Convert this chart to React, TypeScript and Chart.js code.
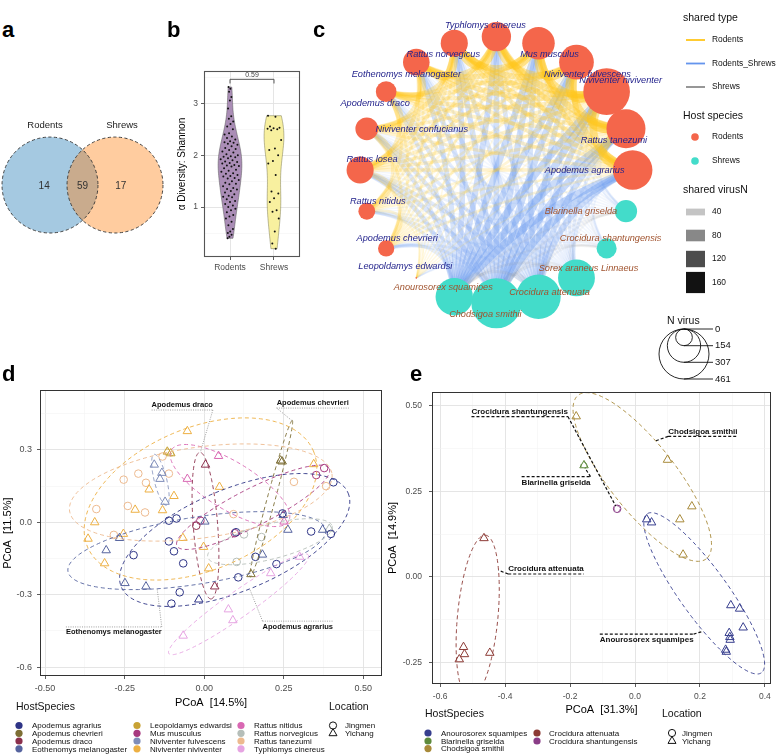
import React, { useEffect, useRef } from "react";
import { Chart, registerables } from "chart.js";

Chart.register(...registerables);
const FONT = "'Liberation Sans', Arial, Helvetica, sans-serif";
Chart.defaults.font.family = FONT;
Chart.defaults.color = "#4d4d4d";

/* ======================= DATA ======================= */
// a: Venn
const VENN_SETS = ["Rodents", "Shrews"];
const VENN_COUNTS = [14, 59, 17]; // rodents only, shared, shrews only

// b: violin (alpha diversity, Shannon)
const VIOLIN_GROUPS = ["Rodents", "Shrews"];
const SHANNON_RODENTS = [3.31, 3.28, 3.22, 3.12, 3.05, 2.9, 2.75, 2.7, 2.65, 2.6, 2.55, 2.5, 2.42, 2.4, 2.36, 2.33, 2.3, 2.27, 2.25, 2.24, 2.22, 2.2, 2.17, 2.14, 2.12, 2.1, 2.07, 2.05, 2.02, 2.0, 1.98, 1.97, 1.96, 1.94, 1.92, 1.9, 1.88, 1.87, 1.85, 1.84, 1.81, 1.8, 1.79, 1.78, 1.75, 1.72, 1.7, 1.68, 1.65, 1.64, 1.62, 1.6, 1.59, 1.56, 1.55, 1.52, 1.5, 1.47, 1.45, 1.44, 1.4, 1.37, 1.35, 1.34, 1.31, 1.28, 1.25, 1.22, 1.2, 1.19, 1.15, 1.12, 1.1, 1.06, 1.03, 1.0, 0.97, 0.94, 0.9, 0.85, 0.82, 0.78, 0.72, 0.65, 0.58, 0.53, 0.5, 0.47, 0.43, 0.4];
const SHANNON_SHREWS = [2.76, 2.74, 2.55, 2.53, 2.52, 2.51, 2.5, 2.48, 2.29, 2.13, 2.1, 2.0, 1.89, 1.84, 1.62, 1.3, 1.26, 1.17, 1.1, 0.94, 0.91, 0.78, 0.53, 0.3, 0.2];
const P_LABEL = "0.59";
const VIOLIN_Y_TICKS = [0.5, 1, 1.5, 2, 2.5, 3, 3.5];
const VIOLIN_Y_MAJOR = [1, 2, 3];

// c: network
const NET_NAMES = ["Typhlomys cinereus", "Mus musculus", "Niviventer fulvescens", "Niviventer niviventer", "Rattus tanezumi", "Apodemus agrarius", "Blarinella griselda", "Crocidura shantungensis", "Sorex araneus Linnaeus", "Crocidura attenuata", "Chodsigoa smithii", "Anourosorex squamipes", "Leopoldamys edwardsi", "Apodemus chevrieri", "Rattus nitidus", "Rattus losea", "Niviventer confucianus", "Apodemus draco", "Eothenomys melanogaster", "Rattus norvegicus"];
const NET_HOST = ["Rodents", "Rodents", "Rodents", "Rodents", "Rodents", "Rodents", "Shrews", "Shrews", "Shrews", "Shrews", "Shrews", "Shrews", "Rodents", "Rodents", "Rodents", "Rodents", "Rodents", "Rodents", "Rodents", "Rodents"];
const NET_NVIRUS = [270, 300, 320, 430, 360, 365, 205, 185, 340, 410, 461, 345, 15, 150, 155, 250, 210, 190, 245, 250];
const HOST_TYPES = ["Rodents", "Shrews"];
const SHARED_TYPES = ["Rodents", "Rodents_Shrews", "Shrews"];
const EDGES_RR = [
  [0, 1, 120], [0, 2, 110], [0, 3, 110], [0, 4, 80], [0, 5, 70], [0, 12, 5], [0, 13, 25], [0, 14, 25], [0, 15, 50], [0, 16, 50], [0, 17, 60], [0, 18, 90], [0, 19, 130],
  [1, 2, 130], [1, 3, 130], [1, 4, 100], [1, 5, 80], [1, 12, 5], [1, 13, 25], [1, 14, 25], [1, 15, 45], [1, 16, 45], [1, 17, 55], [1, 18, 80], [1, 19, 110],
  [2, 3, 150], [2, 4, 120], [2, 5, 90], [2, 12, 5], [2, 13, 25], [2, 14, 25], [2, 15, 45], [2, 16, 45], [2, 17, 55], [2, 18, 75], [2, 19, 95],
  [3, 4, 160], [3, 5, 130], [3, 12, 6], [3, 13, 30], [3, 14, 30], [3, 15, 50], [3, 16, 50], [3, 17, 60], [3, 18, 80], [3, 19, 95],
  [4, 5, 150], [4, 12, 5], [4, 13, 25], [4, 14, 25], [4, 15, 45], [4, 16, 45], [4, 17, 50], [4, 18, 60], [4, 19, 75],
  [5, 12, 5], [5, 13, 25], [5, 14, 25], [5, 15, 45], [5, 16, 40], [5, 17, 45], [5, 18, 55], [5, 19, 65],
  [12, 13, 4], [12, 14, 4], [12, 15, 5], [12, 16, 5], [12, 17, 5], [12, 18, 5], [12, 19, 5],
  [13, 14, 30], [13, 15, 40], [13, 16, 35], [13, 17, 30], [13, 18, 30], [13, 19, 30],
  [14, 15, 45], [14, 16, 40], [14, 17, 35], [14, 18, 35], [14, 19, 35],
  [15, 16, 70], [15, 17, 60], [15, 18, 60], [15, 19, 60],
  [16, 17, 70], [16, 18, 65], [16, 19, 60],
  [17, 18, 90], [17, 19, 80],
  [18, 19, 110],
];
const RS_RODENTS = [0, 1, 2, 3, 4, 5, 12, 13, 14, 15, 16, 17, 18, 19];
const RS_SHREWS = [6, 7, 8, 9, 10, 11];
const RS_SHARED = [
  [10, 8, 30, 70, 90, 95],
  [12, 10, 35, 80, 100, 105],
  [12, 10, 35, 80, 105, 105],
  [15, 12, 40, 95, 120, 120],
  [15, 12, 40, 90, 115, 110],
  [18, 14, 45, 100, 125, 120],
  [2, 2, 3, 5, 6, 6],
  [6, 5, 15, 30, 40, 40],
  [6, 5, 15, 30, 40, 40],
  [10, 8, 25, 55, 70, 70],
  [9, 7, 22, 50, 62, 62],
  [8, 7, 20, 45, 58, 58],
  [10, 8, 28, 60, 75, 78],
  [11, 9, 30, 65, 85, 88],
];
const EDGES_SS = [[6, 7, 10], [6, 8, 15], [6, 9, 20], [6, 10, 22], [6, 11, 18], [7, 8, 12], [7, 9, 18], [7, 10, 20], [7, 11, 16], [8, 9, 30], [8, 10, 35], [8, 11, 28], [9, 10, 45], [9, 11, 38], [10, 11, 42]];
const SHARED_BREAKS = [40, 80, 120, 160];
const NVIRUS_BREAKS = [0, 154, 307, 461];

// d: PCoA rodents  [x, y, location]
const LOCATIONS = ["Jingmen", "Yichang"];
const D_SPECIES = ["Apodemus agrarius", "Apodemus chevrieri", "Apodemus draco", "Eothenomys melanogaster", "Leopoldamys edwardsi", "Mus musculus", "Niviventer fulvescens", "Niviventer niviventer", "Rattus nitidus", "Rattus norvegicus", "Rattus tanezumi", "Typhlomys cinereus"];
const D_AGRARIUS = [[-0.222, -0.136, "J"], [-0.111, 0.007, "J"], [-0.087, 0.016, "J"], [-0.111, -0.079, "J"], [-0.095, -0.12, "J"], [-0.066, -0.17, "J"], [-0.077, -0.29, "J"], [-0.103, -0.337, "J"], [-0.017, -0.32, "Y"], [0.107, -0.228, "J"], [0.161, -0.143, "J"], [0.227, -0.173, "J"], [0.1, -0.041, "J"], [0.246, 0.037, "J"], [0.336, -0.038, "J"], [0.398, -0.048, "J"], [0.406, 0.166, "J"]];
const D_CHEVRIERI = [[0.24, 0.256, "Y"], [0.245, 0.252, "Y"], [0.147, -0.215, "Y"]];
const D_DRACO = [[0.004, 0.239, "Y"], [0.033, -0.266, "Y"], [-0.025, -0.014, "J"]];
const D_EOTHENOMYS = [[-0.266, -0.065, "Y"], [-0.308, -0.116, "Y"], [-0.249, -0.252, "Y"], [-0.183, -0.266, "Y"], [0.248, 0.03, "Y"], [0.263, -0.031, "Y"], [0.183, -0.134, "Y"], [0.372, -0.031, "Y"], [0.002, 0.003, "Y"]];
const D_LEOPOLDAMYS = [[-0.116, 0.293, "Y"], [-0.105, 0.286, "Y"]];
const D_MUS = [[0.377, 0.225, "J"], [0.352, 0.196, "J"], [-0.012, 0.007, "J"], [0.096, -0.045, "J"]];
const D_FULVESCENS = [[-0.157, 0.239, "Y"], [-0.133, 0.205, "Y"], [-0.139, 0.18, "Y"], [-0.123, 0.085, "Y"]];
const D_NIVIVENTER = [[-0.053, 0.378, "Y"], [0.344, 0.241, "Y"], [-0.173, 0.136, "Y"], [0.048, 0.147, "Y"], [-0.095, 0.109, "Y"], [-0.217, 0.052, "Y"], [-0.131, 0.05, "Y"], [-0.344, 0.0, "Y"], [-0.365, -0.068, "Y"], [-0.254, -0.048, "Y"], [-0.313, -0.17, "Y"], [-0.067, -0.065, "Y"], [-0.002, -0.102, "Y"], [0.014, -0.191, "Y"]];
const D_NITIDUS = [[0.045, 0.275, "Y"], [-0.053, 0.18, "Y"], [0.251, 0.003, "Y"]];
const D_NORVEGICUS = [[0.18, -0.061, "J"], [0.102, -0.164, "J"], [0.393, -0.027, "Y"], [0.125, -0.05, "J"]];
const D_TANEZUMI = [[-0.339, 0.055, "J"], [-0.24, 0.068, "J"], [-0.186, 0.041, "J"], [-0.284, -0.052, "J"], [-0.253, 0.177, "J"], [-0.207, 0.202, "J"], [-0.111, 0.202, "J"], [-0.183, 0.164, "J"], [0.092, 0.034, "J"], [0.282, 0.168, "J"], [0.383, 0.15, "J"], [-0.131, 0.273, "J"]];
const D_TYPHLOMYS = [[0.3, -0.143, "Y"], [0.209, -0.211, "Y"], [0.076, -0.361, "Y"], [0.09, -0.406, "Y"], [-0.066, -0.47, "Y"]];
const D_DATA = [D_AGRARIUS, D_CHEVRIERI, D_DRACO, D_EOTHENOMYS, D_LEOPOLDAMYS, D_MUS, D_FULVESCENS, D_NIVIVENTER, D_NITIDUS, D_NORVEGICUS, D_TANEZUMI, D_TYPHLOMYS];
const D_X_TICKS = [-0.5, -0.375, -0.25, -0.125, 0, 0.125, 0.25, 0.375, 0.5];
const D_X_MAJOR = [-0.5, -0.25, 0, 0.25, 0.5];
const D_Y_TICKS = [-0.6, -0.45, -0.3, -0.15, 0, 0.15, 0.3, 0.45];
const D_Y_MAJOR = [-0.6, -0.3, 0, 0.3];
const D_MARK_NAMES = ["Apodemus draco", "Apodemus chevrieri", "Eothenomys melanogaster", "Apodemus agrarius"];
const D_MARK_X = [-0.069, 0.341, -0.284, 0.294];
const D_MARK_Y = [0.485, 0.493, -0.456, -0.432];

// e: PCoA shrews
const E_SPECIES = ["Anourosorex squamipes", "Blarinella griselda", "Chodsigoa smithii", "Crocidura attenuata", "Crocidura shantungensis"];
const E_ANOUROSOREX = [[0.036, 0.168, "Y"], [0.051, 0.159, "Y"], [0.295, -0.083, "Y"], [0.322, -0.093, "Y"], [0.333, -0.148, "Y"], [0.29, -0.164, "Y"], [0.292, -0.176, "Y"], [0.293, -0.184, "Y"], [0.279, -0.213, "Y"], [0.281, -0.219, "Y"]];
const E_BLARINELLA = [[-0.157, 0.326, "Y"]];
const E_CHODSIGOA = [[-0.181, 0.469, "Y"], [0.1, 0.342, "Y"], [0.175, 0.206, "Y"], [0.138, 0.168, "Y"], [0.148, 0.065, "Y"]];
const E_ATTENUATA = [[-0.465, 0.113, "Y"], [-0.528, -0.205, "Y"], [-0.525, -0.226, "Y"], [-0.541, -0.241, "Y"], [-0.447, -0.222, "Y"]];
const E_SHANTUNGENSIS = [[-0.055, 0.199, "J"]];
const E_DATA = [E_ANOUROSOREX, E_BLARINELLA, E_CHODSIGOA, E_ATTENUATA, E_SHANTUNGENSIS];
const E_X_TICKS = [-0.6, -0.5, -0.4, -0.3, -0.2, -0.1, 0, 0.1, 0.2, 0.3, 0.4];
const E_X_MAJOR = [-0.6, -0.4, -0.2, 0, 0.2, 0.4];
const E_Y_TICKS = [-0.25, -0.125, 0, 0.125, 0.25, 0.375, 0.5];
const E_Y_MAJOR = [-0.25, 0, 0.25, 0.5];
const E_MARK_NAMES = ["Crocidura shantungensis", "Chodsigoa smithii", "Blarinella griselda", "Crocidura attenuata", "Anourosorex squamipes"];
const E_MARK_X = [-0.355, 0.209, -0.243, -0.274, 0.036];
const E_MARK_Y = [0.483, 0.425, 0.276, 0.023, -0.184];

/* ======================= STYLES ======================= */
const D_COLORS = ["#2E3486", "#7D6E35", "#8B2F4C", "#56649F", "#C8A234", "#A7397F", "#7F8DB9", "#EDB043", "#D968B3", "#B5BEB9", "#EDBA8F", "#E6A4E2"];
const E_COLORS = ["#373E8E", "#5D8A3C", "#A88A3A", "#8C3A35", "#8A3D87"];
const HOST_COLORS = ["#F4664B", "#43DCCA"];
const TYPE_COLORS = ["#FFC61A", "#6495ED", "#8C8C8C"];
const TYPE_ALPHA = [[0.1, 0.42], [0.06, 0.4], [0.05, 0.35]];
const EDGE_DRAW_ORDER = [1, 2, 0];
const EDGE_BEND = 0.6; // control point = chord midpoint * EDGE_BEND (bends edges toward the centre)
const NODE_K = 25 / 461;
const NET_LABEL_NUDGE = [[-11, -11], [11, 11], [11, 12], [14, -11], [-12, 12], [-48, 0], [-45, 0], [4, -10], [12, -9], [11, -4], [-11, 11], [-11, -9], [-11, -11], [11, -10], [11, -10], [12, -11], [55, 1], [-11, 12], [-10, 12], [-11, 11]];

/* ======================= HELPERS ======================= */
const isIn = (list: number[], v: number) => list.some((m) => Math.abs(m - v) < 1e-9);
const clean = (v: number) => (Math.abs(v) < 1e-9 ? 0 : v);

function baseOptions(padding: any) {
  return {
    animation: false,
    responsive: false,
    maintainAspectRatio: false,
    events: [],
    layout: { padding },
    plugins: { legend: { display: false }, tooltip: { enabled: false }, title: { display: false } },
  };
}

function linAxis(o: any) {
  const maj = (c: any) => c.tick && isIn(o.majors, c.tick.value);
  return {
    type: "linear",
    min: o.min,
    max: o.max,
    afterBuildTicks: (s: any) => {
      s.ticks = o.ticks.map((v: number) => ({ value: v }));
    },
    afterFit: (s: any) => {
      if (o.isX) s.height = o.fixed;
      else s.width = o.fixed;
    },
    ticks: {
      autoSkip: false,
      maxRotation: 0,
      minRotation: 0,
      padding: o.tickPad,
      color: "#4d4d4d",
      font: { size: o.fontSize },
      callback: (v: number) => (isIn(o.majors, v) ? (o.labels ? o.labels[o.majors.findIndex((m: number) => Math.abs(m - v) < 1e-9)] : o.fmt(clean(v))) : ""),
    },
    grid: {
      color: (c: any) => (maj(c) ? "#e2e2e2" : "#f1f1f1"),
      lineWidth: (c: any) => (maj(c) ? 0.9 : 0.5),
      tickColor: (c: any) => (maj(c) ? "#333" : "rgba(0,0,0,0)"),
      tickLength: 3,
      tickWidth: 0.8,
      drawTicks: true,
    },
    border: { display: false },
    title: o.title
      ? { display: true, text: o.title, color: "#000", font: { size: o.titleSize || 11 }, padding: o.titlePad }
      : { display: false },
  };
}

function boxPlugin(color: string, lw: number) {
  return {
    id: "box",
    afterDraw(chart: any) {
      const { ctx, chartArea: a } = chart;
      ctx.save();
      ctx.strokeStyle = color;
      ctx.lineWidth = lw;
      ctx.strokeRect(Math.round(a.left) + 0.5, Math.round(a.top) + 0.5, Math.round(a.right - a.left) - 1, Math.round(a.bottom - a.top) - 1);
      ctx.restore();
    },
  };
}

function inv3(m: number[][]) {
  const [a, b, c] = m[0], [d, e, f] = m[1], [g, h, i] = m[2];
  const A = e * i - f * h, B = -(d * i - f * g), C = d * h - e * g;
  const det = a * A + b * B + c * C;
  return [
    [A / det, -(b * i - c * h) / det, (b * f - c * e) / det],
    [B / det, (a * i - c * g) / det, -(a * f - c * d) / det],
    [C / det, -(a * h - b * g) / det, (a * e - b * d) / det],
  ];
}

// minimum-volume enclosing ellipse (Khachiyan)
function mvee(pts: number[][]) {
  const n = pts.length;
  if (n === 1) return { cx: pts[0][0], cy: pts[0][1], a: 0, b: 0, t: 0 };
  if (n === 2) {
    const [p, q] = pts;
    return { cx: (p[0] + q[0]) / 2, cy: (p[1] + q[1]) / 2, a: Math.hypot(q[0] - p[0], q[1] - p[1]) / 2, b: 0, t: Math.atan2(q[1] - p[1], q[0] - p[0]) };
  }
  const mx = pts.reduce((s, p) => s + p[0], 0) / n;
  const my = pts.reduce((s, p) => s + p[1], 0) / n;
  const P = pts.map((p) => [p[0] - mx, p[1] - my]);
  let u = new Array(n).fill(1 / n);
  for (let it = 0; it < 6000; it++) {
    const X = [[1e-6, 0, 0], [0, 1e-6, 0], [0, 0, 1e-9]];
    for (let k = 0; k < n; k++) {
      const q = [P[k][0], P[k][1], 1];
      for (let r = 0; r < 3; r++) for (let c = 0; c < 3; c++) X[r][c] += u[k] * q[r] * q[c];
    }
    const Xi = inv3(X);
    let maxM = -Infinity, j = 0;
    for (let k = 0; k < n; k++) {
      const q = [P[k][0], P[k][1], 1];
      let m = 0;
      for (let r = 0; r < 3; r++) for (let c = 0; c < 3; c++) m += q[r] * Xi[r][c] * q[c];
      if (m > maxM) { maxM = m; j = k; }
    }
    const step = (maxM - 3) / (3 * (maxM - 1));
    if (!(step > 1e-8)) break;
    u = u.map((v) => v * (1 - step));
    u[j] += step;
  }
  let cx = 0, cy = 0;
  for (let k = 0; k < n; k++) { cx += u[k] * P[k][0]; cy += u[k] * P[k][1]; }
  let sxx = 0, sxy = 0, syy = 0;
  for (let k = 0; k < n; k++) {
    const dx = P[k][0] - cx, dy = P[k][1] - cy;
    sxx += u[k] * dx * dx; sxy += u[k] * dx * dy; syy += u[k] * dy * dy;
  }
  const tr = (sxx + syy) / 2, df = Math.sqrt(((sxx - syy) / 2) ** 2 + sxy * sxy);
  const l1 = tr + df, l2 = Math.max(tr - df, 0);
  return { cx: cx + mx, cy: cy + my, a: Math.sqrt(2 * l1), b: Math.sqrt(2 * l2), t: 0.5 * Math.atan2(2 * sxy, sxx - syy) };
}

function ellipsePoly(e: any, expand: number) {
  const a = e.a + expand, b = e.b + expand, out: number[][] = [];
  for (let k = 0; k < 160; k++) {
    const th = (k / 160) * Math.PI * 2;
    const ca = Math.cos(th) * a, sb = Math.sin(th) * b;
    out.push([e.cx + ca * Math.cos(e.t) - sb * Math.sin(e.t), e.cy + ca * Math.sin(e.t) + sb * Math.cos(e.t)]);
  }
  return out;
}

function markPlugin(cfg: any) {
  return {
    id: "marks",
    afterDatasetsDraw(chart: any) {
      const { ctx, chartArea: a, scales } = chart;
      const xs = scales.x, ys = scales.y;
      const polys: any = {};
      ctx.save();
      ctx.beginPath();
      ctx.rect(a.left, a.top, a.right - a.left, a.bottom - a.top);
      ctx.clip();
      chart.data.datasets.forEach((ds: any) => {
        const pts = ds.data.map((p: any) => [xs.getPixelForValue(p.x), ys.getPixelForValue(p.y)]);
        const poly = ellipsePoly(mvee(pts), cfg.expand);
        polys[ds.label] = poly;
        ctx.strokeStyle = ds.borderColor;
        ctx.lineWidth = 0.9;
        ctx.setLineDash(cfg.dash);
        ctx.beginPath();
        poly.forEach((p: number[], i: number) => (i ? ctx.lineTo(p[0], p[1]) : ctx.moveTo(p[0], p[1])));
        ctx.closePath();
        ctx.stroke();
      });
      ctx.restore();
      ctx.save();
      ctx.font = `bold ${cfg.fontSize}px ${FONT}`;
      ctx.textAlign = "center";
      ctx.textBaseline = "middle";
      cfg.names.forEach((nm: string, k: number) => {
        const cx = xs.getPixelForValue(cfg.xs[k]), cy = ys.getPixelForValue(cfg.ys[k]);
        const w = ctx.measureText(nm).width;
        const poly = polys[nm];
        const ends = [[cx - w / 2, cy], [cx + w / 2, cy]];
        let best = { d: Infinity, e: ends[0], p: poly[0] };
        ends.forEach((en) => poly.forEach((p: number[]) => {
          const d = Math.hypot(p[0] - en[0], p[1] - en[1]);
          if (d < best.d) best = { d, e: en, p };
        }));
        const above = best.p[1] < cy;
        const ly = above ? cy - cfg.fontSize * 0.72 : cy + cfg.fontSize * 0.62;
        ctx.fillStyle = "#111";
        ctx.fillText(nm, cx, cy);
        ctx.strokeStyle = cfg.lineColor;
        ctx.lineWidth = cfg.lineWidth;
        ctx.setLineDash(cfg.lineDash);
        ctx.beginPath();
        ctx.moveTo(cx - w / 2, ly);
        ctx.lineTo(cx + w / 2, ly);
        ctx.moveTo(best.e[0], ly);
        ctx.lineTo(best.p[0], best.p[1]);
        ctx.stroke();
      });
      ctx.restore();
    },
  };
}

function pcoaLegendPlugin(off: number[], L: any) {
  return {
    id: "pleg",
    afterDraw(chart: any) {
      const ctx = chart.ctx;
      const X = (v: number) => v - off[0], Y = (v: number) => v - off[1];
      ctx.save();
      ctx.textBaseline = "middle";
      ctx.textAlign = "left";
      ctx.fillStyle = "#111";
      ctx.font = `10.5px ${FONT}`;
      ctx.fillText("HostSpecies", X(L.titleX), Y(L.titleY));
      ctx.fillText("Location", X(L.locTitleX), Y(L.titleY));
      ctx.font = `8px ${FONT}`;
      L.names.forEach((nm: string, k: number) => {
        const col = Math.floor(k / L.rows.length), row = k % L.rows.length;
        const ky = Y(L.rows[row]);
        ctx.fillStyle = L.colors[k];
        ctx.beginPath();
        ctx.arc(X(L.keyX[col]), ky, 3.6, 0, Math.PI * 2);
        ctx.fill();
        ctx.fillStyle = "#111";
        ctx.fillText(nm, X(L.textX[col]), ky + 0.5);
      });
      LOCATIONS.forEach((loc, k) => {
        const kx = X(L.locKeyX), ky = Y(L.rows[k]);
        ctx.strokeStyle = "#111";
        ctx.lineWidth = 1;
        ctx.beginPath();
        if (k === 0) ctx.arc(kx, ky, 3.6, 0, Math.PI * 2);
        else {
          ctx.moveTo(kx, ky - 4.6);
          ctx.lineTo(kx + 4, ky + 2.4);
          ctx.lineTo(kx - 4, ky + 2.4);
          ctx.closePath();
        }
        ctx.stroke();
        ctx.fillStyle = "#111";
        ctx.fillText(loc, X(L.locTextX), ky + 0.5);
      });
      ctx.restore();
    },
  };
}

function pcoaDatasets(names: string[], data: any[], colors: string[]) {
  return names.map((nm, k) => ({
    label: nm,
    data: data[k].map((p: any) => ({ x: p[0], y: p[1], loc: p[2] })),
    borderColor: colors[k],
    backgroundColor: "rgba(0,0,0,0)",
    borderWidth: 1,
    pointStyle: (c: any) => (c.raw && c.raw.loc === "J" ? "circle" : "triangle"),
    pointRadius: (c: any) => (c.raw && c.raw.loc === "J" ? 3.8 : 4.9),
    clip: false,
  }));
}

/* ======================= PANEL CONFIGS ======================= */
const VENN_R = 0.738;
function makeVenn() {
  const plugin = {
    id: "venn",
    afterDraw(chart: any) {
      const { ctx, scales: { x, y } } = chart;
      const r = x.getPixelForValue(VENN_R) - x.getPixelForValue(0);
      const cs = [0, 1].map((v) => [x.getPixelForValue(v), y.getPixelForValue(0)]);
      const fills = ["rgba(31,119,180,0.4)", "rgba(255,127,14,0.4)"];
      ctx.save();
      cs.forEach((c, k) => {
        ctx.fillStyle = fills[k];
        ctx.beginPath();
        ctx.arc(c[0], c[1], r, 0, Math.PI * 2);
        ctx.fill();
      });
      ctx.setLineDash([3.2, 2.4]);
      ctx.strokeStyle = "#333";
      ctx.lineWidth = 0.9;
      cs.forEach((c) => {
        ctx.beginPath();
        ctx.arc(c[0], c[1], r, 0, Math.PI * 2);
        ctx.stroke();
      });
      ctx.textAlign = "center";
      ctx.textBaseline = "middle";
      ctx.fillStyle = "#222";
      ctx.font = `9.5px ${FONT}`;
      const lx = [-0.077, 1.108];
      VENN_SETS.forEach((s, k) => ctx.fillText(s, x.getPixelForValue(lx[k]), y.getPixelForValue(0.923)));
      ctx.font = `10px ${FONT}`;
      ctx.fillStyle = "#333";
      const nx = [-0.09, 0.5, 1.09];
      VENN_COUNTS.forEach((n, k) => ctx.fillText(String(n), x.getPixelForValue(nx[k]), y.getPixelForValue(-0.015)));
      ctx.restore();
    },
  };
  return {
    type: "scatter",
    data: { datasets: [{ data: [{ x: 0, y: 0 }, { x: 1, y: 0 }], pointRadius: 0 }] },
    options: { ...baseOptions(0), scales: { x: { display: false, min: -0.769, max: 1.846 }, y: { display: false, min: -1.015, max: 0.985 } } },
    plugins: [plugin],
  };
}

function kdeInfo(vals: number[]) {
  const n = vals.length;
  const mean = vals.reduce((s, v) => s + v, 0) / n;
  const sd = Math.sqrt(vals.reduce((s, v) => s + (v - mean) ** 2, 0) / (n - 1));
  const s = [...vals].sort((a, b) => a - b);
  const q = (p: number) => {
    const h = (n - 1) * p, lo = Math.floor(h);
    return s[lo] + (h - lo) * ((s[lo + 1] ?? s[lo]) - s[lo]);
  };
  const bw = 0.9 * Math.min(sd, (q(0.75) - q(0.25)) / 1.34) * Math.pow(n, -0.2);
  const dens = (g: number) => vals.reduce((acc, v) => acc + Math.exp(-0.5 * ((g - v) / bw) ** 2), 0) / (n * bw * Math.sqrt(2 * Math.PI));
  return { min: s[0], max: s[n - 1], dens };
}

function makeViolin() {
  const groups = [SHANNON_RODENTS, SHANNON_SHREWS];
  const infos = groups.map(kdeInfo);
  const grids = infos.map((inf) => Array.from({ length: 90 }, (_, i) => inf.min + ((inf.max - inf.min) * i) / 89));
  const maxD = Math.max(...infos.map((inf, g) => Math.max(...grids[g].map(inf.dens))));
  const HALF = 0.27;
  const fills = ["#AA8DB6", "#F8F09F"];
  const strokes = ["#555", "#77744e"];
  const violinPlugin = {
    id: "violin",
    beforeDatasetsDraw(chart: any) {
      const { ctx, scales: { x, y } } = chart;
      ctx.save();
      infos.forEach((inf, g) => {
        const cx = g + 1;
        const left = grids[g].map((v) => [x.getPixelForValue(cx - (HALF * inf.dens(v)) / maxD), y.getPixelForValue(v)]);
        const right = grids[g].map((v) => [x.getPixelForValue(cx + (HALF * inf.dens(v)) / maxD), y.getPixelForValue(v)]).reverse();
        const poly = [...left, ...right];
        ctx.beginPath();
        poly.forEach((p, i) => (i ? ctx.lineTo(p[0], p[1]) : ctx.moveTo(p[0], p[1])));
        ctx.closePath();
        ctx.fillStyle = fills[g];
        ctx.fill();
        ctx.strokeStyle = strokes[g];
        ctx.lineWidth = 0.5;
        ctx.stroke();
      });
      ctx.restore();
    },
    afterDraw(chart: any) {
      const { ctx, scales: { x, y } } = chart;
      const yb = y.getPixelForValue(3.46), yt = y.getPixelForValue(3.38);
      const x1 = x.getPixelForValue(1), x2 = x.getPixelForValue(2);
      ctx.save();
      ctx.strokeStyle = "#555";
      ctx.lineWidth = 1;
      ctx.beginPath();
      ctx.moveTo(x1, yt); ctx.lineTo(x1, yb); ctx.lineTo(x2, yb); ctx.lineTo(x2, yt);
      ctx.stroke();
      ctx.fillStyle = "#444";
      ctx.font = `7px ${FONT}`;
      ctx.textAlign = "center";
      ctx.textBaseline = "bottom";
      ctx.fillText(P_LABEL, (x1 + x2) / 2, yb - 1);
      ctx.restore();
    },
  };
  const jit = (i: number) => ((i * 0.6180339887) % 1) - 0.5;
  return {
    type: "scatter",
    data: {
      datasets: groups.map((vals, g) => ({
        data: vals.map((v, i) => ({ x: g + 1 + jit(i) * 2 * 0.82 * (HALF * infos[g].dens(v)) / maxD, y: v })),
        pointRadius: 1.0,
        backgroundColor: "#111",
        borderWidth: 0,
      })),
    },
    options: {
      ...baseOptions({ left: 0, top: 11, right: 5, bottom: 0 }),
      scales: {
        x: linAxis({ min: 0.409, max: 2.591, ticks: [1, 2], majors: [1, 2], labels: VIOLIN_GROUPS, fixed: 28, isX: true, tickPad: 3, fontSize: 8.5 }),
        y: linAxis({ min: 0.04, max: 3.62, ticks: VIOLIN_Y_TICKS, majors: VIOLIN_Y_MAJOR, fmt: (v: number) => String(v), fixed: 34, isX: false, tickPad: 3, fontSize: 8.5, title: "α Diversity: Shannon", titleSize: 10, titlePad: { top: 6, bottom: 0 } }),
      },
    },
    plugins: [violinPlugin, boxPlugin("#555", 1.1)],
  };
}

function makeNetwork() {
  const N = NET_NAMES.length;
  const pos = (i: number) => {
    const ang = Math.PI / 2 - (i * 2 * Math.PI) / N;
    return { x: Math.cos(ang), y: Math.sin(ang) };
  };
  const edgesByType: any[][] = [[], [], []];
  EDGES_RR.forEach((e) => edgesByType[0].push([e[0], e[1], e[2]]));
  RS_RODENTS.forEach((r, a) => RS_SHREWS.forEach((s, b) => edgesByType[1].push([r, s, RS_SHARED[a][b]])));
  EDGES_SS.forEach((e) => edgesByType[2].push([e[0], e[1], e[2]]));
  const rgba = (hex: string, al: number) => {
    const n = parseInt(hex.slice(1), 16);
    return `rgba(${(n >> 16) & 255},${(n >> 8) & 255},${n & 255},${al})`;
  };
  const edgePlugin = {
    id: "edges",
    beforeDatasetsDraw(chart: any) {
      const { ctx, scales: { x, y } } = chart;
      ctx.save();
      ctx.lineCap = "butt";
      EDGE_DRAW_ORDER.forEach((t) => {
        edgesByType[t].forEach(([i, j, v]) => {
          const a = pos(i), b = pos(j);
          const mx = ((a.x + b.x) / 2) * EDGE_BEND, my = ((a.y + b.y) / 2) * EDGE_BEND;
          ctx.strokeStyle = rgba(TYPE_COLORS[t], Math.min(TYPE_ALPHA[t][0] + (TYPE_ALPHA[t][1] * v) / 160, 0.7));
          ctx.lineWidth = 1.2 + (8 * v) / 160;
          ctx.beginPath();
          ctx.moveTo(x.getPixelForValue(a.x), y.getPixelForValue(a.y));
          ctx.quadraticCurveTo(x.getPixelForValue(mx), y.getPixelForValue(my), x.getPixelForValue(b.x), y.getPixelForValue(b.y));
          ctx.stroke();
        });
      });
      ctx.restore();
    },
    afterDatasetsDraw(chart: any) {
      const { ctx, scales: { x, y } } = chart;
      ctx.save();
      ctx.font = `italic 9.2px ${FONT}`;
      ctx.textAlign = "center";
      ctx.textBaseline = "middle";
      NET_NAMES.forEach((nm, i) => {
        const p = pos(i);
        ctx.fillStyle = NET_HOST[i] === "Rodents" ? "#23238C" : "#A0522D";
        ctx.fillText(nm, x.getPixelForValue(p.x) + NET_LABEL_NUDGE[i][0], y.getPixelForValue(p.y) + NET_LABEL_NUDGE[i][1]);
      });
      ctx.restore();
    },
    afterDraw(chart: any) {
      const ctx = chart.ctx;
      const X = (v: number) => v - 320, Y = (v: number) => v + 4;
      ctx.save();
      ctx.textBaseline = "middle";
      ctx.textAlign = "left";
      ctx.fillStyle = "#111";
      ctx.font = `10.5px ${FONT}`;
      ctx.fillText("shared type", X(683), Y(18));
      ctx.fillText("Host species", X(683), Y(116));
      ctx.fillText("shared virusN", X(683), Y(190));
      ctx.fillText("N virus", X(667), Y(321));
      ctx.font = `8.4px ${FONT}`;
      SHARED_TYPES.forEach((t, k) => {
        const yy = Y(40 + 23.5 * k);
        ctx.strokeStyle = TYPE_COLORS[k];
        ctx.lineWidth = 1.8;
        ctx.beginPath();
        ctx.moveTo(X(686), yy);
        ctx.lineTo(X(705), yy);
        ctx.stroke();
        ctx.fillStyle = "#111";
        ctx.fillText(t, X(712), yy);
      });
      HOST_TYPES.forEach((h, k) => {
        const yy = Y(137 + 24 * k);
        ctx.fillStyle = HOST_COLORS[k];
        ctx.beginPath();
        ctx.arc(X(695), yy, 3.8, 0, Math.PI * 2);
        ctx.fill();
        ctx.fillStyle = "#111";
        ctx.fillText(h, X(712), yy);
      });
      const sy = [212, 235.5, 259, 282.5];
      SHARED_BREAKS.forEach((b, k) => {
        const h = 2 + 0.12 * b;
        ctx.fillStyle = `rgba(0,0,0,${Math.min(b / 172, 1)})`;
        ctx.fillRect(X(686), Y(sy[k]) - h / 2, 19, h);
        ctx.fillStyle = "#111";
        ctx.fillText(String(b), X(712), Y(sy[k]));
      });
      ctx.font = `9.5px ${FONT}`;
      ctx.strokeStyle = "#111";
      ctx.lineWidth = 0.9;
      NVIRUS_BREAKS.forEach((b) => {
        const r = b * NODE_K;
        const top = Y(329);
        if (r > 0) {
          ctx.beginPath();
          ctx.arc(X(684), top + r, r, 0, Math.PI * 2);
          ctx.stroke();
        }
        ctx.beginPath();
        ctx.moveTo(X(684), top + 2 * r);
        ctx.lineTo(X(713), top + 2 * r);
        ctx.stroke();
        ctx.fillText(String(b), X(715), top + 2 * r);
      });
      ctx.restore();
    },
  };
  return {
    type: "scatter",
    data: {
      datasets: HOST_TYPES.map((h, k) => ({
        label: h,
        data: NET_NAMES.map((nm, i) => ({ ...pos(i), v: NET_NVIRUS[i] })).filter((_, i) => NET_HOST[i] === h),
        backgroundColor: HOST_COLORS[k],
        borderWidth: 0,
        pointRadius: (c: any) => (c.raw ? c.raw.v * NODE_K : 0),
        clip: false,
      })),
    },
    options: {
      ...baseOptions(0),
      scales: { x: { display: false, min: -1.111, max: 1.876 }, y: { display: false, min: -1.4248, max: 1.1176 } },
    },
    plugins: [edgePlugin],
  };
}

function makePcoaD() {
  return {
    type: "scatter",
    data: { datasets: pcoaDatasets(D_SPECIES, D_DATA, D_COLORS) },
    options: {
      ...baseOptions({ left: 0, top: 7, right: 3, bottom: 44 }),
      scales: {
        x: linAxis({ min: -0.516, max: 0.559, ticks: D_X_TICKS, majors: D_X_MAJOR, fmt: (v: number) => v.toFixed(2), fixed: 34, isX: true, tickPad: 4, fontSize: 9, title: "PCoA  [14.5%]", titlePad: { top: 0, bottom: 0 } }),
        y: linAxis({ min: -0.637, max: 0.547, ticks: D_Y_TICKS, majors: D_Y_MAJOR, fmt: (v: number) => v.toFixed(1), fixed: 40, isX: false, tickPad: 5, fontSize: 9, title: "PCoA  [11.5%]", titlePad: { top: 1, bottom: 0 } }),
      },
    },
    plugins: [
      boxPlugin("#333", 1),
      markPlugin({ expand: 3, dash: [4, 3], names: D_MARK_NAMES, xs: D_MARK_X, ys: D_MARK_Y, fontSize: 7.5, lineColor: "#777", lineWidth: 0.7, lineDash: [1, 1.3] }),
      pcoaLegendPlugin([0, 380], { titleX: 16, titleY: 707, rows: [725.5, 733.3, 741, 748.8], keyX: [19, 137, 241], textX: [32, 150, 254], names: D_SPECIES, colors: D_COLORS, locTitleX: 329, locKeyX: 333, locTextX: 345 }),
    ],
  };
}

function makePcoaE() {
  return {
    type: "scatter",
    data: { datasets: pcoaDatasets(E_SPECIES, E_DATA, E_COLORS) },
    options: {
      ...baseOptions({ left: 0, top: 7, right: 5, bottom: 34 }),
      scales: {
        x: linAxis({ min: -0.625, max: 0.419, ticks: E_X_TICKS, majors: E_X_MAJOR, fmt: (v: number) => v.toFixed(1), fixed: 36, isX: true, tickPad: 4.5, fontSize: 8.5, title: "PCoA  [31.3%]", titlePad: { top: 0, bottom: 3 } }),
        y: linAxis({ min: -0.313, max: 0.54, ticks: E_Y_TICKS, majors: E_Y_MAJOR, fmt: (v: number) => v.toFixed(2), fixed: 47, isX: false, tickPad: 7, fontSize: 8.5, title: "PCoA  [14.9%]", titlePad: { top: 1.5, bottom: 0 } }),
      },
    },
    plugins: [
      boxPlugin("#333", 1),
      markPlugin({ expand: 3, dash: [4, 3], names: E_MARK_NAMES, xs: E_MARK_X, ys: E_MARK_Y, fontSize: 8, lineColor: "#111", lineWidth: 1.2, lineDash: [3, 2] }),
      pcoaLegendPlugin([385, 380], { titleX: 425, titleY: 714, rows: [733, 741, 748.6], keyX: [428, 537], textX: [441, 549], names: E_SPECIES, colors: E_COLORS, locTitleX: 662, locKeyX: 672, locTextX: 682 }),
    ],
  };
}

/* ======================= COMPONENTS ======================= */
function ChartBox(props: { left: number; top: number; width: number; height: number; make: () => any }) {
  const ref = useRef<HTMLCanvasElement | null>(null);
  useEffect(() => {
    const chart = new Chart(ref.current as HTMLCanvasElement, props.make());
    return () => chart.destroy();
  }, []);
  return (
    <div style={{ position: "absolute", left: props.left, top: props.top, width: props.width, height: props.height }}>
      <canvas ref={ref} width={props.width} height={props.height} style={{ width: props.width, height: props.height }} />
    </div>
  );
}

const LETTERS = [["a", 2, 19], ["b", 167, 19], ["c", 313, 19], ["d", 2, 363], ["e", 410, 363]];

export default function App() {
  return (
    <div style={{ position: "absolute", left: 0, top: 0, width: 777, height: 754, overflow: "hidden", background: "#fff" }}>
      <ChartBox left={0} top={121} width={170} height={130} make={makeVenn} />
      <ChartBox left={170} top={60} width={135} height={225} make={makeViolin} />
      <ChartBox left={320} top={-4} width={457} height={389} make={makeNetwork} />
      <ChartBox left={0} top={380} width={388} height={374} make={makePcoaD} />
      <ChartBox left={385} top={380} width={392} height={374} make={makePcoaE} />
      {LETTERS.map(([t, l, tp]) => (
        <div key={t as string} style={{ position: "absolute", left: l as number, top: tp as number, font: `bold 22px ${FONT}`, lineHeight: "22px", color: "#000" }}>
          {t}
        </div>
      ))}
    </div>
  );
}
